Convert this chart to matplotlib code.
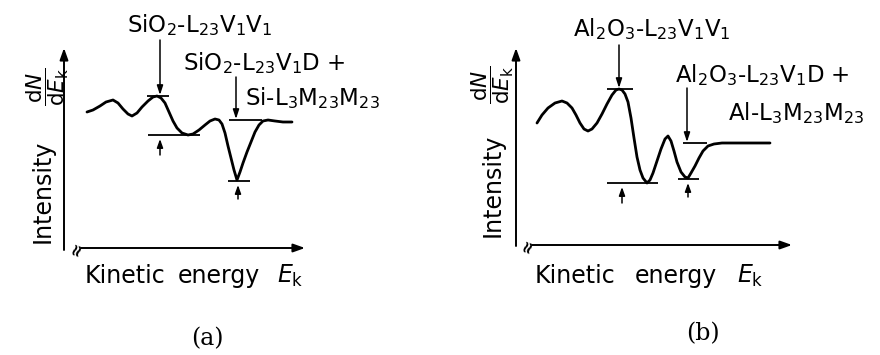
import numpy as np
import matplotlib
matplotlib.use("Agg")
import matplotlib.pyplot as plt

# Schematic derivative Auger spectra, traced in pixel units (x right, y down)
sio2_x = [87, 93, 100, 106, 113, 118, 123, 128, 132, 137, 142, 148, 153, 157, 161,
          165, 169, 173, 177, 182, 188, 193, 199, 205, 210, 215, 219, 222, 225, 228,
          231, 234, 237, 240, 243, 247, 251, 255, 259, 263, 268, 275, 283, 292]
sio2_y = [112, 110, 106, 102, 100, 103, 109, 114, 116, 113, 107, 101, 97, 96, 98,
          103, 112, 121, 128, 133, 135, 134, 130, 125, 121, 119, 120, 124, 133, 146,
          158, 170, 180, 172, 163, 152, 142, 132, 125, 121, 120, 121, 122, 122]

al2o3_x = [537, 542, 548, 555, 562, 567, 572, 576, 580, 584, 588, 592, 597, 602, 607,
           612, 616, 619, 622, 625, 628, 631, 634, 637, 640, 643, 647, 650, 653, 657,
           661, 665, 668, 671, 674, 677, 681, 685, 688, 691, 695, 699, 703, 708, 714,
           722, 735, 750, 770]
al2o3_y = [123, 115, 108, 103, 101, 103, 108, 115, 123, 129, 131, 129, 123, 114, 104,
           95, 90, 89, 90, 94, 102, 118, 138, 157, 170, 178, 183, 180, 173, 161,
           149, 139, 136, 141, 151, 162, 172, 177, 178, 173, 166, 158, 151, 146, 144,
           143, 143, 143, 143]

sio2_labels = [r"SiO$_2$-L$_{23}$V$_1$V$_1$",
               r"SiO$_2$-L$_{23}$V$_1$D +",
               r"Si-L$_3$M$_{23}$M$_{23}$"]
al2o3_labels = [r"Al$_2$O$_3$-L$_{23}$V$_1$V$_1$",
                r"Al$_2$O$_3$-L$_{23}$V$_1$D +",
                r"Al-L$_3$M$_{23}$M$_{23}$"]
panel_tags = ["(a)", "(b)"]

plt.rcParams["font.family"] = ["DejaVu Sans"]
plt.rcParams["mathtext.fontset"] = "dejavusans"

fig = plt.figure(figsize=(8.8, 3.55), dpi=100)
ax = fig.add_axes([0, 0, 1, 1])
ax.set_xlim(0, 880)
ax.set_ylim(355, 0)
ax.axis("off")

K = "black"
LW_CURVE = 2.0
LW_AXIS = 1.4
LW_MARK = 1.3


def arrow(x0, y0, x1, y1, lw=LW_AXIS, hl=0.7, hw=0.25):
    ax.annotate("", xy=(x1, y1), xytext=(x0, y0),
                arrowprops=dict(arrowstyle=f"-|>,head_length={hl},head_width={hw}",
                                lw=lw, color=K, shrinkA=0, shrinkB=0))


def hline(y, xa, xb):
    ax.plot([xa, xb], [y, y], color=K, lw=LW_MARK, solid_capstyle="butt")


def axes_frame(x_axis_y, y_axis_x, y_top, x_start, x_end, y_bottom):
    arrow(y_axis_x, y_bottom, y_axis_x, y_top)
    arrow(x_start + 4, x_axis_y, x_end, x_axis_y)
    # break mark at the start of the energy axis
    ax.text(x_start, x_axis_y + 1, "\u2248", rotation=70, fontsize=12,
            fontweight="bold", ha="center", va="center", color=K)


def panel(xs, ys, cfg):
    xs = np.asarray(xs, float)
    ys = np.asarray(ys, float)
    ax.plot(xs, ys, color=K, lw=LW_CURVE, solid_joinstyle="round",
            solid_capstyle="round")

    # main transition: peak and following valley
    top = ys.min()
    low = ys[(xs > cfg["peak_x"]) & (xs < cfg["valley_xmax"])].max()
    hline(top, *cfg["top_span"])
    hline(low, *cfg["low_span"])
    arrow(cfg["down1_x"], cfg["down1_y0"], cfg["down1_x"], top - 1, lw=1.1, hl=0.55, hw=0.18)
    arrow(cfg["up1_x"], low + 20, cfg["up1_x"], low + 4, lw=1.1, hl=0.5, hw=0.18)

    # second transition: level after the dip and dip minimum
    after = xs > cfg["dip_xmin"]
    dip = ys[after].max()
    dip_x = xs[after][np.argmax(ys[after])]
    base = ys[xs > dip_x].min()
    hline(base, *cfg["base_span"])
    hline(dip + 1, *cfg["dip_span"])
    arrow(cfg["down2_x"], cfg["down2_y0"], cfg["down2_x"], base - 1, lw=1.1, hl=0.55, hw=0.18)
    arrow(cfg["up2_x"], dip + 19, cfg["up2_x"], dip + 5, lw=1.1, hl=0.5, hw=0.18)


panel(sio2_x, sio2_y, dict(peak_x=157, valley_xmax=205, top_span=(147, 169),
                           low_span=(148, 200), down1_x=160, down1_y0=40, up1_x=160,
                           base_span=(229, 262), dip_xmin=225, dip_span=(228, 250),
                           down2_x=236, down2_y0=77, up2_x=238))
panel(al2o3_x, al2o3_y, dict(peak_x=619, valley_xmax=660, top_span=(607, 633),
                             low_span=(607, 658), down1_x=619, down1_y0=45, up1_x=622,
                             base_span=(683, 707), dip_xmin=672, dip_span=(678, 699),
                             down2_x=687, down2_y0=88, up2_x=688))

axes_frame(248, 64, 48, 77, 305, 250)
axes_frame(245, 516, 48, 528, 792, 246)

LABEL_FS = 16.5
ax.text(127, 32, sio2_labels[0], fontsize=LABEL_FS, ha="left", va="baseline")
ax.text(183, 70, sio2_labels[1], fontsize=LABEL_FS, ha="left", va="baseline")
ax.text(245, 105, sio2_labels[2], fontsize=LABEL_FS, ha="left", va="baseline")
ax.text(573, 36, al2o3_labels[0], fontsize=LABEL_FS, ha="left", va="baseline")
ax.text(675, 82, al2o3_labels[1], fontsize=LABEL_FS, ha="left", va="baseline")
ax.text(728, 120, al2o3_labels[2], fontsize=LABEL_FS, ha="left", va="baseline")

AX_FS = 17
frac = r"$\dfrac{\mathrm{d}N}{\mathrm{d}E_\mathrm{k}}$"
ax.text(43, 191, "Intensity", rotation=90, fontsize=AX_FS, ha="center", va="center")
ax.text(493, 185, "Intensity", rotation=90, fontsize=AX_FS, ha="center", va="center")
ax.text(48, 87, frac, rotation=90, fontsize=15.5, ha="center", va="center")
ax.text(493, 85, frac, rotation=90, fontsize=15.5, ha="center", va="center")

# x-axis titles
ax.text(85, 283, "Kinetic", fontsize=AX_FS, ha="left", va="baseline")
ax.text(178, 283, "energy", fontsize=AX_FS, ha="left", va="baseline")
ax.text(277, 283, r"$E_\mathrm{k}$", fontsize=AX_FS, ha="left", va="baseline")
ax.text(535, 283, "Kinetic", fontsize=AX_FS, ha="left", va="baseline")
ax.text(635, 283, "energy", fontsize=AX_FS, ha="left", va="baseline")
ax.text(737, 283, r"$E_\mathrm{k}$", fontsize=AX_FS, ha="left", va="baseline")

ax.text(207, 339, panel_tags[0], fontsize=17, family="DejaVu Serif", ha="center", va="center")
ax.text(703, 334, panel_tags[1], fontsize=17, family="DejaVu Serif", ha="center", va="center")

fig.savefig("out.png", dpi=100, facecolor="white")
